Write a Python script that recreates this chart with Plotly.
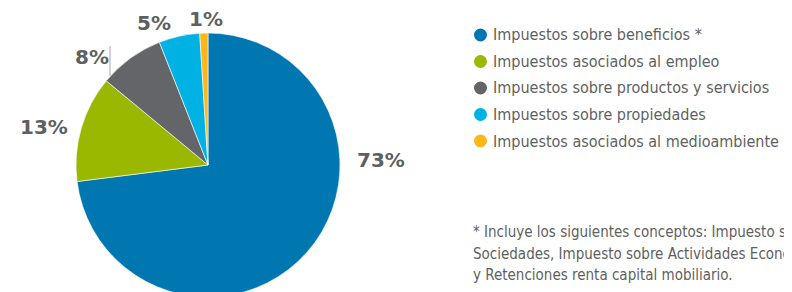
import plotly.graph_objects as go

# the page adds an 8px body margin; figure is drawn larger and clipped by the window
OFF = 8
W, H = 800, 300

categories = [
    "Impuestos sobre beneficios *",
    "Impuestos asociados al empleo",
    "Impuestos sobre productos y servicios",
    "Impuestos sobre propiedades",
    "Impuestos asociados al medioambiente",
]
values = [73, 13, 8, 5, 1]
colors = ["#0077B0", "#9BB800", "#636569", "#00B2E3", "#FDB71A"]
pct_labels = ["73%", "13%", "8%", "5%", "1%"]
footnote_lines = [
    "* Incluye los siguientes conceptos: Impuesto sobre",
    "Sociedades, Impuesto sobre Actividades Económicas",
    "y Retenciones renta capital mobiliario.",
]

TEXT = "#5E5F61"
LEG_FONT = "DejaVu Sans Condensed, sans-serif"


def px(x):
    return (x - OFF) / W


def py(y):
    return 1 - (y - OFF) / H


# pie geometry (page pixels)
cx, cy, r = 208, 165, 132

fig = go.Figure()
fig.add_trace(go.Pie(
    labels=categories,
    values=values,
    sort=False,
    direction="clockwise",
    rotation=0,
    marker=dict(colors=colors, line=dict(color="white", width=0.6)),
    textinfo="none",
    hoverinfo="label+percent",
    showlegend=False,
    domain=dict(x=[px(cx - r), px(cx + r)], y=[py(cy + r), py(cy - r)]),
))

annotations = []
shapes = []

# percentage labels
label_pos = [(381, 160), (44, 127), (92, 57), (154, 23), (206, 19)]
for t, (x, y) in zip(pct_labels, label_pos):
    annotations.append(dict(
        x=px(x), y=py(y), xref="paper", yref="paper", text=t, showarrow=False,
        xanchor="center", yanchor="middle",
        font=dict(family="DejaVu Sans", size=20, color=TEXT, weight="bold"),
    ))

# leader line for 8%
shapes.append(dict(type="line", xref="paper", yref="paper",
                   x0=px(110), x1=px(110), y0=py(46), y1=py(76),
                   line=dict(color="#A6A7A9", width=1)))

# custom legend
row_y = [35, 61.5, 88, 114.5, 141]
for cat, col, y in zip(categories, colors, row_y):
    shapes.append(dict(type="circle", xref="paper", yref="paper",
                       x0=px(474), x1=px(487), y0=py(y + 6.5), y1=py(y - 6.5),
                       fillcolor=col, line=dict(width=0)))
    annotations.append(dict(
        x=px(491), y=py(y), xref="paper", yref="paper", text=cat, showarrow=False,
        xanchor="left", yanchor="middle",
        font=dict(family=LEG_FONT, size=16, color=TEXT),
    ))

# footnote
foot_y = [232, 253.5, 275]
for line, y in zip(footnote_lines, foot_y):
    annotations.append(dict(
        x=px(471), y=py(y), xref="paper", yref="paper",
        text=line, showarrow=False, align="left",
        xanchor="left", yanchor="middle",
        font=dict(family=LEG_FONT, size=15, color=TEXT),
    ))

fig.update_layout(
    width=W, height=H,
    margin=dict(l=0, r=0, t=0, b=0),
    paper_bgcolor="white", plot_bgcolor="white",
    annotations=annotations, shapes=shapes,
)

fig.write_html("out.html")
